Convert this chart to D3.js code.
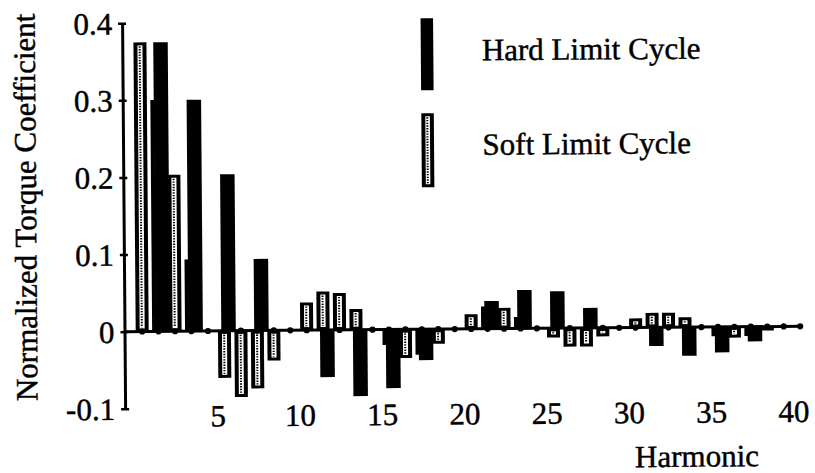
<!DOCTYPE html>
<html>
<head>
<meta charset="utf-8">
<script src="https://cdn.jsdelivr.net/npm/d3@7"></script>
<style>
  html, body { margin: 0; padding: 0; background: #fff; }
  svg { display: block; }
  svg text { font-family: "Liberation Serif", "DejaVu Serif", serif; fill: #000; stroke: #000; stroke-width: 0.45px; }
</style>
</head>
<body>
<svg id="chart" width="815" height="473"></svg>
<script>
// Torque coefficient per harmonic, hard vs soft limit cycle
const softHarmonic = [0, 1, 2, 3, 5, 6, 7, 8, 10, 11, 12, 13, 15, 16, 17, 18,
                      20, 21, 22, 23, 25, 26, 27, 28, 30, 31, 32, 33, 35, 36, 37, 38];
const softValue = [0.375, 0.300, 0.203, 0.093, -0.061, -0.086, -0.075, -0.039,
                   0.036, 0.050, 0.048, 0.027, -0.020, -0.037, -0.033, -0.019,
                   0.019, 0.029, 0.027, 0.015, -0.012, -0.024, -0.024, -0.011,
                   0.012, 0.019, 0.019, 0.013, -0.012, -0.014, -0.012, -0.005];
const hardHarmonic = [1, 3, 5, 7, 11, 13, 15, 17, 21, 23, 25, 27, 31, 33, 35, 37];
const hardValue = [0.375, 0.300, 0.203, 0.093, -0.061, -0.086, -0.076, -0.040,
                   0.036, 0.050, 0.048, 0.026, -0.024, -0.037, -0.033, -0.019];
const harmonicTicks = [0, 1, 2, 3, 4, 5, 6, 7, 8, 9, 10, 11, 12, 13, 14, 15, 16, 17, 18, 19, 20,
                       21, 22, 23, 24, 25, 26, 27, 28, 29, 30, 31, 32, 33, 34, 35, 36, 37, 38, 39, 40];
const xTickLabels = [5, 10, 15, 20, 25, 30, 35, 40];
const yTickValues = [-0.1, 0, 0.1, 0.2, 0.3, 0.4];
const legendLabels = ["Hard Limit Cycle", "Soft Limit Cycle"];

const soft = softHarmonic.map((h, i) => ({ h, v: softValue[i] }));
const hard = hardHarmonic.map((h, i) => ({ h, v: hardValue[i] }));

const serif = '"Liberation Serif", "DejaVu Serif", serif';
const svg = d3.select("#chart").attr("font-family", serif);
svg.append("rect").attr("width", 815).attr("height", 473).attr("fill", "#fff");

// whole figure sits very slightly tilted
const g = svg.append("g").attr("transform", "rotate(-0.45, 460, 330)");

const x = d3.scaleLinear().domain([0, 40]).range([141.7, 799.7]);
const y = d3.scaleLinear().domain([-0.1, 0.4]).range([406.1, 20.6]);
const axisX = 124.5;

const softW = 13, softShift = 0.5;
const hardW = 14.5, hardShift = 4.6;

// soft bar: black frame with a narrow white column carrying a dotted chain
function softBar(sel, x0, y0, w, h) {
  sel.append("rect").attr("x", x0).attr("y", y0).attr("width", w).attr("height", h).attr("fill", "#000");
  const inset = 4, insetY = 3;
  if (h > 2 * insetY + 1) {
    sel.append("rect")
      .attr("x", x0 + inset).attr("y", y0 + insetY)
      .attr("width", w - 2 * inset).attr("height", h - 2 * insetY)
      .attr("fill", "#fff");
    sel.append("line")
      .attr("x1", x0 + w / 2 - 0.3).attr("x2", x0 + w / 2 - 0.3)
      .attr("y1", y0 + insetY + 1).attr("y2", y0 + h - insetY - 1)
      .attr("stroke", "#000").attr("stroke-width", 2)
      .attr("stroke-dasharray", "1.4 1.3");
  }
}

// soft series underneath
const softG = g.append("g");
soft.forEach(d => {
  const top = y(Math.max(0, d.v));
  const hgt = Math.abs(y(d.v) - y(0));
  if (hgt <= 0) return;
  softBar(softG.append("g"), x(d.h) + softShift - softW / 2, top, softW, hgt);
});

// hard series on top
g.append("g").selectAll("rect").data(hard).join("rect")
  .attr("x", d => x(d.h) + hardShift - hardW / 2)
  .attr("y", d => y(Math.max(0, d.v)))
  .attr("width", hardW)
  .attr("height", d => Math.abs(y(d.v) - y(0)))
  .attr("fill", "#000");

// zero line with a dot at every harmonic
g.append("line")
  .attr("x1", axisX).attr("x2", x(40) + 1)
  .attr("y1", y(0)).attr("y2", y(0))
  .attr("stroke", "#000").attr("stroke-width", 3);

const dotAxis = g.append("g")
  .attr("transform", `translate(0,${y(0)})`)
  .call(d3.axisBottom(x).tickValues(harmonicTicks).tickSize(0).tickFormat(""));
dotAxis.select(".domain").remove();
dotAxis.selectAll(".tick").append("circle").attr("r", 3.1).attr("fill", "#000");

// harmonic labels below the plot
const labelAxis = g.append("g")
  .attr("transform", `translate(0,${y(-0.1)})`)
  .call(d3.axisBottom(x).tickValues(xTickLabels).tickSize(0));
labelAxis.attr("font-family", serif);
labelAxis.select(".domain").remove();
labelAxis.selectAll("text")
  .attr("y", 18.4).attr("dy", 0).attr("dx", -7)
  .style("font-size", "31px");

// value axis
const yAxis = g.append("g")
  .attr("transform", `translate(${axisX},0)`)
  .call(d3.axisLeft(y).tickValues(yTickValues).tickSize(4).tickSizeOuter(0)
    .tickPadding(6).tickFormat(d => String(d)));
yAxis.attr("font-family", serif);
yAxis.select(".domain").attr("stroke", "#000").attr("stroke-width", 3);
yAxis.selectAll(".tick line").attr("x1", 4).attr("stroke", "#000").attr("stroke-width", 2.5);
yAxis.selectAll(".tick text")
  .attr("dy", "0.34em")
  .style("font-size", "31px");

// axis titles
g.append("text")
  .attr("transform", "translate(37,204) rotate(-90)")
  .attr("text-anchor", "middle")
  .style("font-size", "31px")
  .text("Normalized Torque Coefficient");

g.append("text")
  .attr("x", 696).attr("y", 468.5)
  .attr("text-anchor", "middle")
  .style("font-size", "31px")
  .text("Harmonic");

// legend
const legend = g.append("g");
legend.append("rect").attr("x", 423).attr("y", 18).attr("width", 12.5).attr("height", 72).attr("fill", "#000");
softBar(legend.append("g"), 423, 113, 12.5, 74);
legend.selectAll("text.lg").data(legendLabels).join("text")
  .attr("class", "lg")
  .attr("x", 484)
  .attr("y", (d, i) => i === 0 ? 60.5 : 155)
  .style("font-size", "31px")
  .text(d => d);
</script>
</body>
</html>
